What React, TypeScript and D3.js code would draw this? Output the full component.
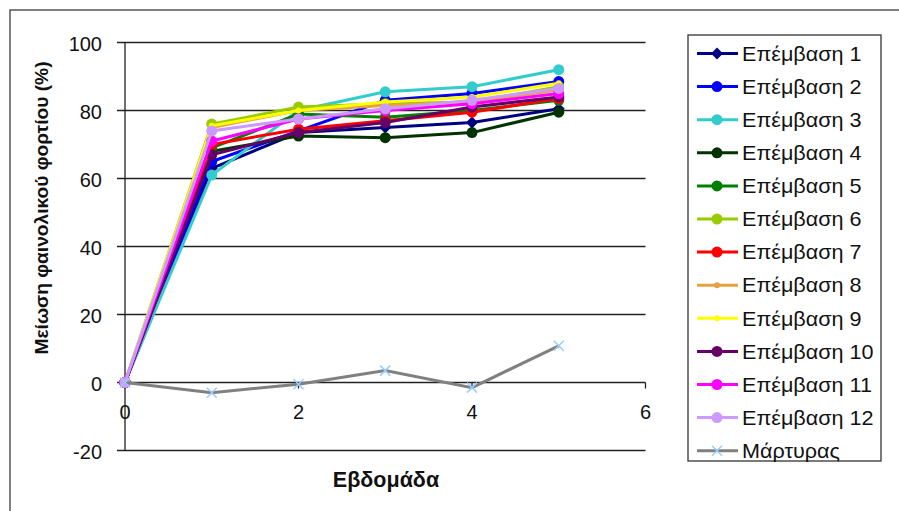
import React from "react";
import * as d3 from "d3";

const weeks = [0, 1, 2, 3, 4, 5];
const seriesNames = [
  "Επέμβαση 1", "Επέμβαση 2", "Επέμβαση 3", "Επέμβαση 4", "Επέμβαση 5", "Επέμβαση 6",
  "Επέμβαση 7", "Επέμβαση 8", "Επέμβαση 9", "Επέμβαση 10", "Επέμβαση 11", "Επέμβαση 12",
];
const s1 = [0, 63, 73.5, 75, 76.5, 80.5];
const s2 = [0, 65, 74, 83, 85, 88.5];
const s3 = [0, 61, 80, 85.5, 87, 92];
const s4 = [0, 68, 72.5, 72, 73.5, 79.5];
const s5 = [0, 69, 79, 78, 80, 83];
const s6 = [0, 76, 81, 82, 82.5, 87];
const s7 = [0, 70, 74.5, 77, 79.5, 83.5];
const s8 = [0, 75, 80, 81.5, 82.5, 86];
const s9 = [0, 75.5, 80, 82.5, 84, 88];
const s10 = [0, 67, 73.5, 76.5, 81, 84];
const s11 = [0, 71, 77.5, 80, 82, 85];
const s12 = [0, 74, 77.5, 80.5, 83, 86.5];
const control = [0, -3, -0.5, 3.5, -1.5, 10.8];
const controlName = "Μάρτυρας";
const seriesValues = [s1, s2, s3, s4, s5, s6, s7, s8, s9, s10, s11, s12];
const colors = [
  "#000080", "#0000FF", "#33CCCC", "#003300", "#008000", "#99CC00",
  "#FF0000", "#E8A040", "#FFFF00", "#660066", "#FF00FF", "#CC99FF",
];
const markerTypes = ["diamond", "circle", "circle", "circle", "circle", "circle",
  "circle", "small", "small", "circle", "circle", "circle"];
const xTicks = [0, 2, 4, 6];
const yTicks = [-20, 0, 20, 40, 60, 80, 100];
const xTitle = "Εβδομάδα";
const yTitle = "Μείωση φαινολικού φορτίου (%)";

const FONT = "'Liberation Sans', Arial, sans-serif";

function Marker({ type, x, y, color }: { type: string; x: number; y: number; color: string }) {
  if (type === "diamond") {
    const r = 6;
    return <path d={`M${x},${y - r}L${x + r},${y}L${x},${y + r}L${x - r},${y}Z`} fill={color} />;
  }
  if (type === "small") return <circle cx={x} cy={y} r={3} fill={color} />;
  return <circle cx={x} cy={y} r={5.5} fill={color} />;
}

function Cross({ x, y }: { x: number; y: number }) {
  const r = 5;
  return (
    <path d={`M${x - r},${y - r}L${x + r},${y + r}M${x - r},${y + r}L${x + r},${y - r}`}
      stroke="#99CCFF" strokeWidth={1.5} />
  );
}

export default function App() {
  const x = d3.scaleLinear().domain([0, 6]).range([125, 645.5]);
  const y = d3.scaleLinear().domain([-20, 100]).range([450.5, 42.5]);
  const line = d3.line<number>().x((_, i) => x(weeks[i])).y((d) => y(d));

  const legX = 688, legY = 35, legW = 193, legH = 426;
  const rowY = (i: number) => 53.5 + i * 33.1;
  const legText = (i: number, n: string) => (
    <text transform={`translate(742,${rowY(i)}) scale(1.08,1)`} dominantBaseline="central"
      fontSize={20} fill="#111">{n}</text>
  );

  return (
    <svg width={899} height={511} style={{ position: "absolute", left: 0, top: 0, background: "#fff" }}
      fontFamily={FONT}>
      <rect x={0} y={0} width={899} height={511} fill="#fff" />
      <rect x={10} y={10} width={900} height={520} fill="none" stroke="#555" strokeWidth={1.5} />
      {yTicks.map((t) => (
        <line key={t} x1={117} x2={x(6)} y1={y(t)} y2={y(t)} stroke="#222" strokeWidth={1.3} />
      ))}
      <line x1={x(0)} x2={x(0)} y1={y(100)} y2={y(-20)} stroke="#222" strokeWidth={1.3} />
      {xTicks.map((t) => (
        <line key={t} x1={x(t)} x2={x(t)} y1={y(0)} y2={y(0) + 6} stroke="#222" strokeWidth={1.3} />
      ))}
      {yTicks.map((t) => (
        <text key={t} x={102} y={y(t) + 1} textAnchor="end" dominantBaseline="central" fontSize={20} fill="#111">{t}</text>
      ))}
      {xTicks.map((t) => (
        <text key={t} x={x(t)} y={419} textAnchor="middle" fontSize={20} fill="#111">{t}</text>
      ))}
      <text x={386} y={487} textAnchor="middle" fontSize={21.5} fontWeight="bold" fill="#111">{xTitle}</text>
      <text transform={`translate(48,208) rotate(-90)`} textAnchor="middle" fontSize={19.2} fontWeight="bold" fill="#111">{yTitle}</text>

      {seriesValues.map((vals, si) => (
        <g key={si}>
          <path d={line(vals) || ""} fill="none" stroke={colors[si]} strokeWidth={3} />
          {vals.map((v, i) => (
            <Marker key={i} type={markerTypes[si]} x={x(weeks[i])} y={y(v)} color={colors[si]} />
          ))}
        </g>
      ))}
      <path d={line(control) || ""} fill="none" stroke="#808080" strokeWidth={3} />
      {control.map((v, i) => <Cross key={i} x={x(weeks[i])} y={y(v)} />)}

      <rect x={legX} y={legY} width={legW} height={legH} fill="#fff" stroke="#333" strokeWidth={1.3} />
      {seriesNames.map((n, i) => (
        <g key={n}>
          <line x1={697} x2={738} y1={rowY(i)} y2={rowY(i)} stroke={colors[i]} strokeWidth={3} />
          <Marker type={markerTypes[i]} x={717} y={rowY(i)} color={colors[i]} />
          {legText(i, n)}
        </g>
      ))}
      <g>
        <line x1={697} x2={738} y1={rowY(12)} y2={rowY(12)} stroke="#808080" strokeWidth={3} />
        <Cross x={717} y={rowY(12)} />
        {legText(12, controlName)}
      </g>
    </svg>
  );
}
